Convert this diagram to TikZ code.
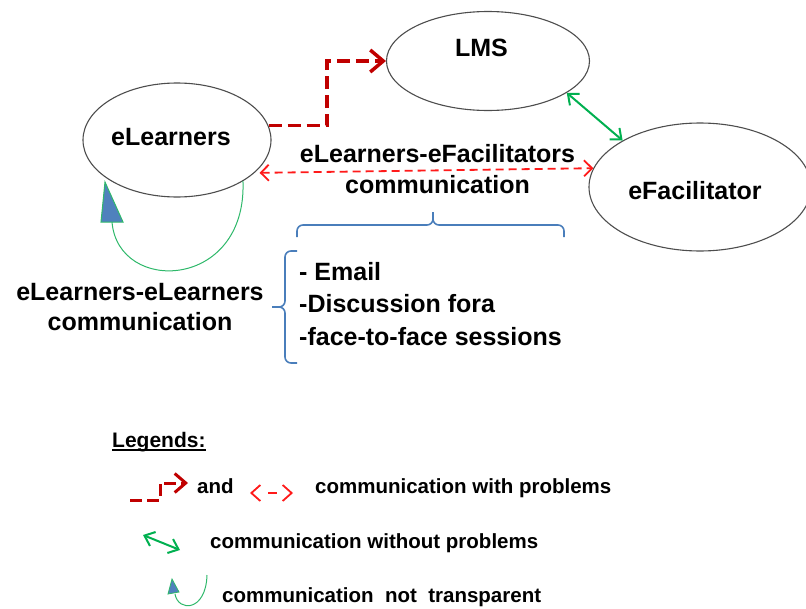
\documentclass[tikz,border=0pt]{standalone}
\usepackage{fontspec}
\setmainfont{Liberation Sans}
\usetikzlibrary{arrows.meta,shapes.geometric,calc}

\definecolor{ringgray}{HTML}{4D4D4D}
\definecolor{probdark}{HTML}{C00000}
\definecolor{probred}{HTML}{FF1A1A}
\definecolor{goodgreen}{HTML}{00B050}
\definecolor{loopgreen}{HTML}{2EB86A}
\definecolor{headblue}{HTML}{4F81BD}
\definecolor{braceblue}{HTML}{4A7EBB}

\tikzset{
  bubble/.style={draw=ringgray, line width=1.1pt, ellipse, inner sep=0pt},
  bigtext/.style={font=\fontsize{25}{31}\selectfont\bfseries, inner sep=0pt, text=black},
  legtext/.style={font=\fontsize{20.5}{24}\selectfont\bfseries, inner sep=0pt, anchor=base west, text=black},
  problink/.style={draw=probdark, line width=3.5pt, dash pattern=on 13pt off 6pt,
    -{Straight Barb[length=13pt,width=22pt]}},
  probpair/.style={draw=probred, line width=1.8pt, dash pattern=on 8pt off 5pt,
    {Straight Barb[length=8pt,width=16pt]}-{Straight Barb[length=8pt,width=16pt]}},
  goodpair/.style={draw=goodgreen, line width=2pt,
    {Straight Barb[length=9pt,width=15pt]}-{Straight Barb[length=9pt,width=15pt]}},
  loopline/.style={draw=loopgreen, line width=1pt},
  loophead/.style={fill=headblue, draw=loopgreen, line width=1pt, line join=miter},
  bracket/.style={draw=braceblue, line width=1.6pt},
}

\begin{document}
\begin{tikzpicture}[x=1pt,y=-1pt]
\useasboundingbox (0,0) rectangle (806,608);

% the three actors
\node[bubble, minimum width=188pt, minimum height=114pt,
      label={[bigtext, xshift=-6pt, yshift=3pt]center:eLearners}] (eL) at (177,140) {};
\node[bubble, minimum width=203pt, minimum height=99pt,
      label={[bigtext, xshift=-6.5pt, yshift=13pt]center:LMS}] (LMS) at (488,61) {};
\node[bubble, minimum width=222pt, minimum height=128pt,
      label={[bigtext, xshift=-5pt, yshift=-4pt]center:eFacilitator}] (eF) at (700,187) {};

% captions (anchored on the baseline of their last line)
\node[bigtext, align=center, anchor=base] (midcap) at (437.5,193)
  {eLearners-eFacilitators\\communication};
\node[bigtext, align=center, anchor=base, font=\fontsize{25}{30}\selectfont\bfseries] (leftcap) at (140,330)
  {eLearners-eLearners\\communication};
\node[bigtext, align=left, anchor=base west, font=\fontsize{25}{32.5}\selectfont\bfseries] (channels) at (299,345)
  {- Email\\-Discussion fora\\-face-to-face sessions};

% links between the actors
\coordinate (bend) at ($(eL.9)!0.5!(LMS.west)$);
\draw[problink] (eL.9) -| (bend) |- (LMS.west);
\draw[probpair, shorten <=5pt] (eL.-23) -- (eF.170);
\draw[goodpair] (LMS.-22) -- (eF.149);

% learner-to-learner loop with its blue head
\coordinate (loopend) at (112,222);
\coordinate (looptip) at (105,182);
\draw[loopline] (eL.-32) .. controls (247,290) and (118,295) .. (loopend);
\filldraw[loophead] (looptip) -- (101,222) -- (123,222) -- cycle;

% braces
\draw[bracket] (297,237) -- (297,231) to[out=90,in=180] (303,225) -- (427,225)
  to[out=0,in=-90] (433,219) -- (433,212) -- (433,219)
  to[out=-90,in=180] (439,225) -- (558,225) to[out=0,in=90] (564,231) -- (564,237);
\draw[bracket] (297,251) -- (291,251) to[out=180,in=90] (285,257) -- (285,301)
  to[out=-90,in=0] (279,307) -- (272,307) -- (279,307)
  to[out=0,in=90] (285,313) -- (285,357) to[out=-90,in=180] (291,363) -- (297,363);

% legend
\node[legtext, font=\fontsize{21}{24}\selectfont\bfseries] (legtitle) at (112,447)
  {\setbox0\hbox{Legends:}\rlap{\rule[-3.5pt]{\wd0}{1.6pt}}\box0};

\coordinate (k1a) at (130,500);
\coordinate (k1b) at (188,483);
\draw[draw=probdark, line width=3pt, dash pattern=on 12pt off 5pt,
      -{Straight Barb[length=11pt,width=19pt]}] (k1a) -- (160,500) -- (160,483) -- (k1b);
\node[legtext] (kand) at (197,493) {and};
\coordinate (k2a) at (250,493);
\coordinate (k2b) at (293,493);
\draw[draw=probred, line width=1.8pt, dash pattern=on 0pt off 16pt on 9pt off 40pt,
      {Straight Barb[length=9pt,width=16pt]}-{Straight Barb[length=9pt,width=16pt]}] (k2a) -- (k2b);
\node[legtext] (kprob) at (315,493) {communication with problems};

\coordinate (k3a) at (143,535);
\coordinate (k3b) at (180,550);
\draw[goodpair] (k3a) -- (k3b);
\node[legtext] (kgood) at (210,548) {communication without problems};

\coordinate (k4a) at (207,575);
\coordinate (k4b) at (175,594);
\draw[loopline] (k4a) .. controls (206,612) and (178,612) .. (k4b);
\filldraw[loophead, line width=0.8pt] (172,579) -- (168,594) -- (179,592) -- cycle;
\node[legtext] (kloop) at (222,602) {communication\ \ not\ \ transparent};
\end{tikzpicture}
\end{document}
